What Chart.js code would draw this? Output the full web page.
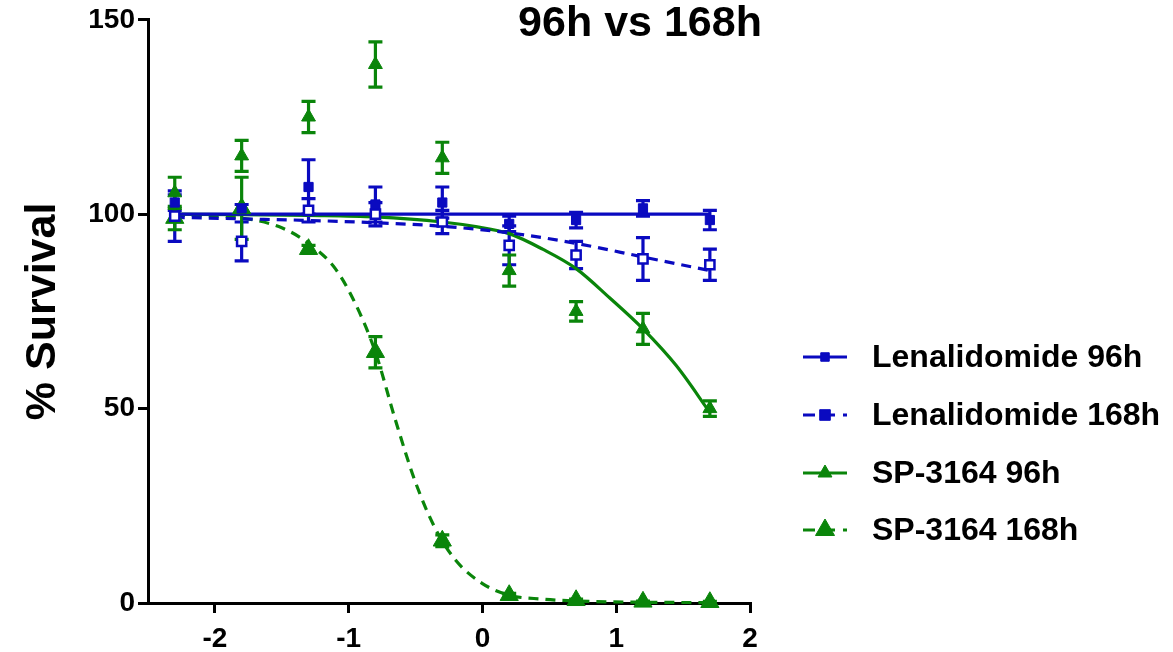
<!DOCTYPE html>
<html>
<head>
<meta charset="utf-8">
<script src="https://cdn.jsdelivr.net/npm/chart.js@4/dist/chart.umd.min.js"></script>
<style>
html,body{margin:0;padding:0;background:#ffffff;}
#c{display:block;}
</style>
</head>
<body>
<canvas id="c" width="1173" height="652"></canvas>
<script>
// ---------- data ----------
const chartTitle = '96h vs 168h';
const yAxisTitle = '% Survival';
const seriesNames = ['Lenalidomide 96h', 'Lenalidomide 168h', 'SP-3164 96h', 'SP-3164 168h'];
const xTickValues = [-2, -1, 0, 1, 2];
const yTickValues = [0, 50, 100, 150];

// log concentration of the measured points
const logDose = [-2.3, -1.8, -1.3, -0.8, -0.3, 0.2, 0.7, 1.2, 1.7];

// measured means and error per series
const len96 = [103, 101.5, 107, 102.5, 103, 97.5, 98.5, 101.5, 98.5];
const len96Err = [2, 1, 7, 4.5, 4, 2, 2, 2, 2.5];
const len168 = [99.5, 93, 101, 100, 98, 92, 89.5, 88.5, 87];
const len168Err = [6.5, 5, 3, 3, 3, 5, 3.5, 5.5, 4];
const sp96 = [105.5, 115, 125, 138.5, 114.5, 85.5, 75, 70.5, 50];
const sp96Err = [4, 4, 4, 5.8, 4, 4, 2.5, 4, 2];
const sp168 = [99, 101.5, 91, 64.5, 16, 2, 0.7, 0.3, 0.2];
const sp168Err = [3, 8, 1, 4, 1.5, 0.5, 0.3, 0.2, 0.2];

// fitted curves
const len96FitX = [-2.3, -1.8, -1.3, -0.8, -0.3, 0.2, 0.7, 1.2, 1.7];
const len96FitY = [100, 100, 100, 100, 100, 100, 100, 100, 100];
const len168FitX = [-2.3, -1.8, -1.3, -0.8, -0.3, 0.2, 0.7, 1.2, 1.7];
const len168FitY = [99.2, 98.8, 98.4, 97.8, 96.9, 95.2, 92.5, 89, 85.5];
const sp96FitX = [-2.3, -1.8, -1.3, -0.8, -0.3, -0.05, 0.2, 0.45, 0.7, 0.95, 1.2, 1.45, 1.7];
const sp96FitY = [100, 99.9, 99.7, 99.3, 98, 96.8, 95, 91, 86, 78.5, 70.5, 61, 49];
const sp168FitX = [-2.3, -1.8, -1.5, -1.3, -1.1, -0.95, -0.8, -0.65, -0.5, -0.35, -0.2, 0, 0.2, 0.45, 0.7, 1.2, 1.7];
const sp168FitY = [99.8, 99, 96.5, 92.5, 86, 77, 64.5, 47, 31, 19, 11, 5, 2, 1, 0.5, 0.2, 0.1];

// ---------- styling ----------
const BLUE = '#0a0ac0';
const GREEN = '#0a850a';
const FONT = "'Liberation Sans', Arial, Helvetica, sans-serif";

function pts(xs, ys) { return xs.map((x, i) => ({ x: x, y: ys[i] })); }

const markerSets = [
  { label: seriesNames[0], data: pts(logDose, len96), err: len96Err, color: BLUE, style: 'rect', radius: 6.5, fill: BLUE, bw: 1, legendR: 6 },
  { label: seriesNames[1], data: pts(logDose, len168), err: len168Err, color: BLUE, style: 'rect', radius: 6.5, fill: '#ffffff', bw: 2.5, legendR: 7.5 },
  { label: seriesNames[2], data: pts(logDose, sp96), err: sp96Err, color: GREEN, style: 'triangle', radius: 8, fill: GREEN, bw: 1, legendR: 8 },
  { label: seriesNames[3], data: pts(logDose, sp168), err: sp168Err, color: GREEN, style: 'triangle', radius: 10.5, fill: GREEN, bw: 1, legendR: 11 }
];
const fitSets = [
  { data: pts(len96FitX, len96FitY), color: BLUE, dash: [] },
  { data: pts(len168FitX, len168FitY), color: BLUE, dash: [10, 7] },
  { data: pts(sp96FitX, sp96FitY), color: GREEN, dash: [] },
  { data: pts(sp168FitX, sp168FitY), color: GREEN, dash: [10, 7] }
];

const datasets = [];
markerSets.forEach(m => datasets.push({
  label: m.label, data: m.data, errors: m.err, showLine: false,
  pointStyle: m.style, pointRadius: m.radius, pointHoverRadius: m.radius,
  pointBackgroundColor: m.fill, pointBorderColor: m.color, pointBorderWidth: m.bw,
  borderColor: m.color, backgroundColor: m.fill, clip: false
}));
fitSets.forEach((f, i) => datasets.push({
  label: seriesNames[i] + ' fit', data: f.data, showLine: true, pointRadius: 0,
  borderColor: f.color, borderWidth: 3.2, borderDash: f.dash, cubicInterpolationMode: 'monotone',
  fill: false, clip: false
}));

function drawMarker(ctx, style, x, y, r, fill, stroke, bw) {
  ctx.save();
  ctx.setLineDash([]);
  ctx.beginPath();
  if (style === 'rect') {
    const s = Math.SQRT1_2 * r;
    ctx.rect(x - s, y - s, 2 * s, 2 * s);
  } else {
    const a = 2 * Math.PI / 3;
    ctx.moveTo(x, y - r);
    ctx.lineTo(x + Math.sin(a) * r, y - Math.cos(a) * r);
    ctx.lineTo(x + Math.sin(2 * a) * r, y - Math.cos(2 * a) * r);
    ctx.closePath();
  }
  ctx.fillStyle = fill; ctx.fill();
  ctx.lineWidth = bw; ctx.strokeStyle = stroke; ctx.stroke();
  ctx.restore();
}

const errorBarPlugin = {
  id: 'errorBars',
  beforeDatasetsDraw(chart) {
    const ctx = chart.ctx, xs = chart.scales.x, ys = chart.scales.y;
    ctx.save();
    ctx.lineWidth = 3.2; ctx.setLineDash([]);
    chart.data.datasets.forEach(ds => {
      if (!ds.errors) return;
      ctx.strokeStyle = ds.borderColor;
      ds.data.forEach((p, i) => {
        const e = ds.errors[i];
        const px = xs.getPixelForValue(p.x);
        const y1 = ys.getPixelForValue(p.y + e), y2 = ys.getPixelForValue(Math.max(0, p.y - e));
        ctx.beginPath();
        ctx.moveTo(px, y1); ctx.lineTo(px, y2);
        ctx.moveTo(px - 7, y1); ctx.lineTo(px + 7, y1);
        ctx.moveTo(px - 7, y2); ctx.lineTo(px + 7, y2);
        ctx.stroke();
      });
    });
    ctx.restore();
  }
};

const decorPlugin = {
  id: 'decor',
  afterDraw(chart) {
    const ctx = chart.ctx;
    ctx.save();
    // title
    ctx.fillStyle = '#000';
    ctx.font = 'bold 43px ' + FONT;
    ctx.textAlign = 'center'; ctx.textBaseline = 'alphabetic';
    ctx.fillText(chartTitle, 640, 36);
    // legend
    const rowY = [357, 415, 473, 530];
    markerSets.forEach((m, i) => {
      const y = rowY[i];
      ctx.save();
      ctx.strokeStyle = m.color; ctx.lineWidth = 3.2;
      ctx.setLineDash(fitSets[i].dash.length ? [12, 8] : []);
      ctx.beginPath(); ctx.moveTo(803, y); ctx.lineTo(847, y); ctx.stroke();
      ctx.restore();
      drawMarker(ctx, m.style, 825, y, m.legendR, m.color, m.color, 1);
      ctx.fillStyle = '#000';
      ctx.font = 'bold 32px ' + FONT;
      ctx.textAlign = 'left'; ctx.textBaseline = 'middle';
      ctx.fillText(m.label, 872, y + 1);
    });
    ctx.restore();
  }
};

new Chart(document.getElementById('c'), {
  type: 'line',
  data: { datasets: datasets },
  options: {
    responsive: false, animation: false, devicePixelRatio: 1,
    layout: { padding: { top: 18, right: 423, left: 0, bottom: 0 } },
    plugins: { legend: { display: false }, tooltip: { enabled: false }, title: { display: false } },
    scales: {
      x: {
        type: 'linear', min: -2.5, max: 2,
        afterFit: s => { s.height = 49; },
        afterBuildTicks: s => { s.ticks = xTickValues.map(v => ({ value: v })); },
        border: { display: true, color: '#000', width: 3 },
        grid: { display: true, drawOnChartArea: false, drawTicks: true, tickLength: 10, color: '#000', lineWidth: 3 },
        ticks: { color: '#000', font: { family: FONT, size: 28, weight: 'bold' }, padding: 9, callback: v => String(v) }
      },
      y: {
        type: 'linear', min: 0, max: 150,
        afterFit: s => { s.width = 148; },
        afterBuildTicks: s => { s.ticks = yTickValues.map(v => ({ value: v })); },
        border: { display: true, color: '#000', width: 3 },
        grid: { display: true, drawOnChartArea: false, drawTicks: true, tickLength: 10, color: '#000', lineWidth: 3 },
        ticks: { color: '#000', font: { family: FONT, size: 28, weight: 'bold' }, padding: 3, callback: v => String(v) },
        title: { display: true, text: yAxisTitle, color: '#000', font: { family: FONT, size: 43, weight: 'bold', lineHeight: 1 }, padding: { top: 22, bottom: 0 } }
      }
    }
  },
  plugins: [errorBarPlugin, decorPlugin]
});
</script>
</body>
</html>
